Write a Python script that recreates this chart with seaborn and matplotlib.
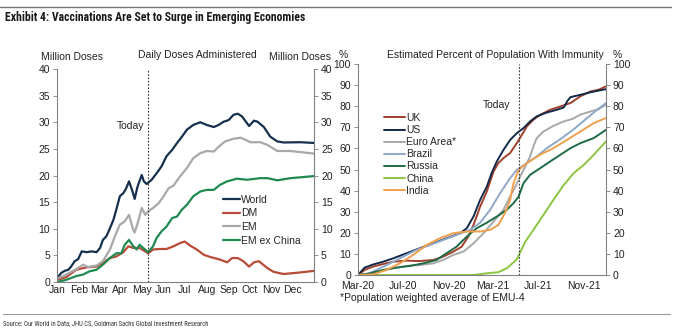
import numpy as np
import pandas as pd
import matplotlib
matplotlib.use("Agg")
import matplotlib.pyplot as plt
import matplotlib.dates as mdates
from matplotlib.lines import Line2D
import seaborn as sns

sns.set_theme(style="white")
plt.rcParams['font.family'] = ['Liberation Sans', 'DejaVu Sans']

# ---------------- Left panel data: day offset from 2021-01-01, million doses
world_day = [0, 6, 11, 16, 20, 25, 30, 35, 42, 49, 56, 61, 65, 70, 75, 80, 84, 89, 94, 98, 102, 107, 110, 114, 120, 123, 127, 134, 141, 148, 155, 163, 170, 177, 184, 193, 203, 212, 222, 229, 236, 243, 250, 256, 262, 272, 279, 284, 293, 302, 312, 321, 345, 365]
world_val = [0.75, 1.7, 2.1, 2.3, 2.9, 3.9, 4.3, 5.75, 5.6, 5.75, 5.6, 6.4, 7.9, 8.6, 10.1, 11.7, 13.6, 16.1, 16.7, 17.6, 18.9, 17.0, 15.6, 17.9, 20.1, 18.9, 18.4, 19.2, 20.4, 21.7, 23.6, 24.8, 26.1, 27.3, 28.6, 29.5, 30.0, 29.5, 29.1, 29.5, 30.1, 30.4, 31.4, 31.6, 31.1, 29.3, 30.3, 30.1, 29.1, 27.3, 26.4, 26.2, 26.25, 26.1]

dm_day = [0, 13, 27, 42, 56, 65, 75, 84, 94, 101, 108, 117, 129, 136, 146, 155, 165, 174, 181, 189, 198, 208, 217, 231, 241, 248, 256, 264, 272, 279, 286, 298, 307, 321, 345, 365]
dm_val = [0.4, 0.9, 2.3, 2.75, 2.9, 3.6, 4.5, 4.8, 5.6, 6.7, 6.4, 6.4, 5.4, 6.1, 6.2, 6.2, 6.7, 7.3, 7.6, 6.8, 6.1, 5.1, 4.7, 4.2, 3.7, 4.5, 4.5, 3.9, 2.9, 3.7, 3.9, 2.6, 1.9, 1.5, 1.8, 2.1]

em_day = [0, 13, 27, 37, 44, 56, 65, 75, 82, 89, 96, 102, 108, 110, 115, 120, 125, 129, 136, 144, 151, 158, 165, 174, 184, 193, 203, 212, 222, 229, 238, 250, 260, 267, 274, 288, 298, 312, 331, 365]
em_val = [0.6, 1.4, 2.4, 3.25, 2.8, 3.1, 3.9, 6.1, 8.6, 10.75, 11.4, 12.6, 9.8, 9.3, 11.4, 13.9, 12.6, 13.25, 13.9, 14.8, 16.1, 17.6, 18.1, 19.8, 21.4, 23.25, 24.2, 24.6, 24.5, 25.4, 26.4, 26.9, 27.1, 26.7, 26.25, 26.25, 25.75, 24.6, 24.6, 24.1]

emx_day = [0, 13, 27, 37, 46, 56, 65, 75, 84, 91, 96, 102, 108, 113, 117, 122, 129, 136, 141, 148, 155, 163, 170, 177, 184, 193, 203, 212, 222, 231, 241, 255, 269, 288, 298, 312, 331, 365]
emx_val = [0.0, 0.4, 1.1, 1.4, 2.0, 2.3, 3.25, 4.5, 5.4, 5.4, 7.0, 7.9, 6.7, 6.1, 7.0, 6.4, 5.6, 6.7, 8.25, 9.5, 10.4, 12.0, 12.3, 13.6, 14.5, 16.1, 17.0, 17.3, 17.3, 18.25, 18.9, 19.4, 19.2, 19.5, 19.5, 19.1, 19.5, 19.9]

left_names = ["World", "DM", "EM", "EM ex China"]

# ---------------- Right panel data: day offset from 2020-03-01, % of population
uk_day = [0, 18, 41, 68, 95, 131, 167, 203, 230, 257, 280, 298, 312, 330, 348, 366, 379, 393, 411, 429, 443, 456, 474, 492, 519, 547, 574, 601, 628, 650, 670]
uk_val = [0, 2.4, 4.0, 5.2, 6.3, 6.8, 6.6, 7.1, 8.7, 11.0, 13.4, 18.2, 23.7, 32.4, 39.6, 49.0, 53.0, 55.4, 57.8, 62.5, 66.5, 70.4, 73.6, 75.9, 78.3, 79.9, 81.5, 84.7, 87.0, 87.8, 89.4]

us_day = [0, 18, 41, 68, 95, 131, 167, 203, 239, 276, 294, 312, 330, 348, 361, 375, 393, 411, 429, 447, 465, 483, 510, 537, 556, 565, 574, 601, 628, 670]
us_val = [0, 3.5, 5.0, 6.3, 7.9, 10.3, 12.7, 15.0, 17.4, 19.8, 22.2, 27.7, 35.6, 41.9, 48.3, 53.8, 59.3, 64.0, 67.2, 69.6, 72.8, 75.2, 77.0, 78.3, 79.4, 82.3, 84.3, 85.4, 86.6, 88.1]

ea_day = [0, 32, 59, 95, 131, 167, 203, 230, 257, 285, 312, 339, 366, 393, 411, 425, 438, 452, 465, 474, 483, 501, 528, 556, 578, 601, 628, 650, 670]
ea_val = [0, 0.3, 1.6, 3.2, 4.3, 4.7, 5.5, 7.1, 9.5, 11.1, 15.0, 19.8, 25.3, 30.9, 37.2, 41.9, 46.7, 51.4, 56.2, 61.0, 64.9, 68.0, 70.7, 72.8, 73.9, 76.0, 77.5, 78.6, 80.7]

br_day = [0, 23, 50, 86, 122, 158, 194, 230, 266, 303, 330, 357, 384, 411, 429, 456, 483, 510, 547, 583, 619, 646, 670]
br_val = [0, 0.3, 2.4, 5.5, 8.7, 11.9, 14.2, 16.6, 19.0, 21.4, 24.8, 30.9, 38.8, 45.9, 49.8, 53.0, 56.2, 60.1, 64.4, 69.1, 74.4, 78.3, 81.5]

ru_day = [0, 32, 68, 104, 140, 176, 212, 239, 266, 294, 321, 348, 375, 402, 420, 434, 447, 465, 492, 519, 547, 574, 601, 637, 670]
ru_val = [0, 0.8, 2.4, 3.5, 4.3, 5.5, 7.1, 10.3, 13.4, 18.2, 22.2, 24.8, 27.7, 30.9, 34.0, 37.2, 43.5, 47.5, 50.6, 53.8, 57.0, 60.1, 62.5, 64.9, 68.8]

cn_day = [0, 312, 348, 379, 402, 429, 452, 474, 501, 528, 556, 583, 610, 637, 670]
cn_val = [0, 0, 0.8, 1.3, 3.2, 7.4, 15.8, 21.4, 28.5, 35.6, 42.7, 48.3, 52.2, 57.0, 63.3]

in_day = [0, 41, 77, 113, 149, 185, 221, 257, 294, 330, 357, 379, 397, 411, 420, 434, 456, 492, 528, 565, 601, 637, 670]
in_val = [0, 0.3, 2.4, 5.5, 9.5, 14.2, 17.4, 19.8, 20.6, 20.6, 21.4, 23.7, 29.3, 35.6, 43.5, 49.8, 53.0, 57.0, 60.1, 64.1, 68.0, 72.0, 74.4]

right_names = ["UK", "US", "Euro Area*", "Brazil", "Russia", "China", "India"]

left_colors = ["#15304d", "#b84a38", "#a8a8a8", "#1f8a50"]
right_colors = ["#a2402c", "#13294a", "#a8a8a8", "#8ea8c9", "#1d6b45", "#8cc540", "#f0a04c"]


def frame(start, pairs, names):
    rows = []
    base = pd.Timestamp(start)
    for name, (d, v) in zip(names, pairs):
        for di, vi in zip(d, v):
            rows.append({"date": base + pd.Timedelta(days=di), "value": vi, "series": name})
    return pd.DataFrame(rows)


left_df = frame("2021-01-01", [(world_day, world_val), (dm_day, dm_val), (em_day, em_val), (emx_day, emx_val)], left_names)
right_df = frame("2020-03-01", [(uk_day, uk_val), (us_day, us_val), (ea_day, ea_val), (br_day, br_val),
                                (ru_day, ru_val), (cn_day, cn_val), (in_day, in_val)], right_names)

W, H = 678, 334
fig = plt.figure(figsize=(W / 100, H / 100), dpi=100)


def rect(x0, y0, x1, y1):
    return [x0 / W, 1 - y1 / H, (x1 - x0) / W, (y1 - y0) / H]


axL = fig.add_axes(rect(57, 69, 314, 282))
axR = fig.add_axes(rect(358, 64, 606, 275))

sns.lineplot(data=left_df, x="date", y="value", hue="series", hue_order=left_names,
             palette=dict(zip(left_names, left_colors)), ax=axL, linewidth=1.6, legend=False, sort=False)
sns.lineplot(data=right_df, x="date", y="value", hue="series", hue_order=right_names,
             palette=dict(zip(right_names, right_colors)), ax=axR, linewidth=1.4, legend=False, sort=False)

spine_c = "#808080"
tick_fs = 7.5
for ax in (axL, axR):
    ax.set_xlabel("")
    ax.set_ylabel("")
    ax.spines["top"].set_visible(False)
    for s in ("left", "right", "bottom"):
        ax.spines[s].set_visible(True)
        ax.spines[s].set_color(spine_c)
        ax.spines[s].set_linewidth(0.8)
    ax.tick_params(axis="y", which="both", left=True, right=True, labelleft=True, labelright=True,
                   length=3, width=0.6, color=spine_c, labelsize=tick_fs, pad=2, labelcolor="#222222")
    ax.grid(False)
    ax.set_facecolor("white")

axL.tick_params(axis="x", direction="in", length=3, width=0.6, color=spine_c, labelsize=tick_fs, pad=2.5,
                labelcolor="#222222")
axR.tick_params(axis="x", direction="in", length=3, width=0.6, color=spine_c, labelsize=tick_fs, pad=4.2,
                labelcolor="#222222")

axL.set_ylim(0, 40)
axL.set_yticks(range(0, 41, 5))
axL.set_xlim(pd.Timestamp("2021-01-01"), pd.Timestamp("2021-12-31"))
axL.xaxis.set_major_locator(mdates.MonthLocator())
axL.xaxis.set_major_formatter(mdates.DateFormatter("%b"))

axR.set_ylim(0, 100)
axR.set_yticks(range(0, 101, 10))
axR.set_xlim(pd.Timestamp("2020-03-01"), pd.Timestamp("2021-12-31"))
axR.xaxis.set_major_locator(mdates.MonthLocator(bymonth=[3, 7, 11]))
axR.xaxis.set_major_formatter(mdates.DateFormatter("%b-%y"))

today = pd.Timestamp("2021-05-10")
for ax in (axL, axR):
    ax.axvline(today, color="#333333", linestyle=(0, (1.5, 1.5)), linewidth=0.8)

txt = dict(fontsize=7.5, color="#222222")
axL.text(0.288, 0.732, "Today", transform=axL.transAxes, ha="center", va="center", **txt)
axR.text(0.557, 0.806, "Today", transform=axR.transAxes, ha="center", va="center", **txt)

# legends
lhL = [Line2D([], [], color=c, lw=1.6) for c in left_colors]
axL.legend(lhL, left_names, loc="upper left", bbox_to_anchor=(0.63, 0.43), frameon=False,
           fontsize=7.5, handlelength=1.6, handletextpad=0.1, labelspacing=0.35, borderaxespad=0)
lhR = [Line2D([], [], color=c, lw=1.4) for c in right_colors]
axR.legend(lhR, right_names, loc="upper left", bbox_to_anchor=(0.09, 0.787), frameon=False,
           fontsize=7.5, handlelength=2.0, handletextpad=0.1, labelspacing=0.2, borderaxespad=0)

# header texts
def ftext(x, y, s, **kw):
    fig.text(x / W, 1 - y / H, s, **kw)

cond = ["Roboto Condensed", "Open Sans Condensed", "DejaVu Sans"]
ftext(5, 18, "Exhibit 4: Vaccinations Are Set to Surge in Emerging Economies", ha="left", va="center",
      fontsize=8.5, fontweight="bold", family=cond, fontstretch="condensed", color="#1a1a1a")
ftext(72, 57, "Million Doses", ha="center", va="center", **txt)
ftext(197, 55, "Daily Doses Administered", ha="center", va="center", **txt)
ftext(300, 57, "Million Doses", ha="center", va="center", **txt)
ftext(343, 55, "%", ha="center", va="center", **txt)
ftext(495, 55, "Estimated Percent of Population With Immunity", ha="center", va="center", **txt)
ftext(617, 55, "%", ha="center", va="center", **txt)
ftext(340, 298, "*Population weighted average of EMU-4", ha="left", va="center", **txt)
ftext(3, 324, "Source: Our World in Data, JHU CS, Goldman Sachs Global Investment Research", ha="left",
      va="center", fontsize=4.8, family=cond, fontstretch="condensed", color="#333333")

fig.add_artist(Line2D([0.0, 0.99], [1 - 7 / H, 1 - 7 / H], color="#777777", lw=1.0, transform=fig.transFigure))
fig.add_artist(Line2D([3 / W, 670 / W], [1 - 314 / H, 1 - 314 / H], color="#999999", lw=0.8, transform=fig.transFigure))

fig.savefig("out.png", dpi=100, facecolor="white")
